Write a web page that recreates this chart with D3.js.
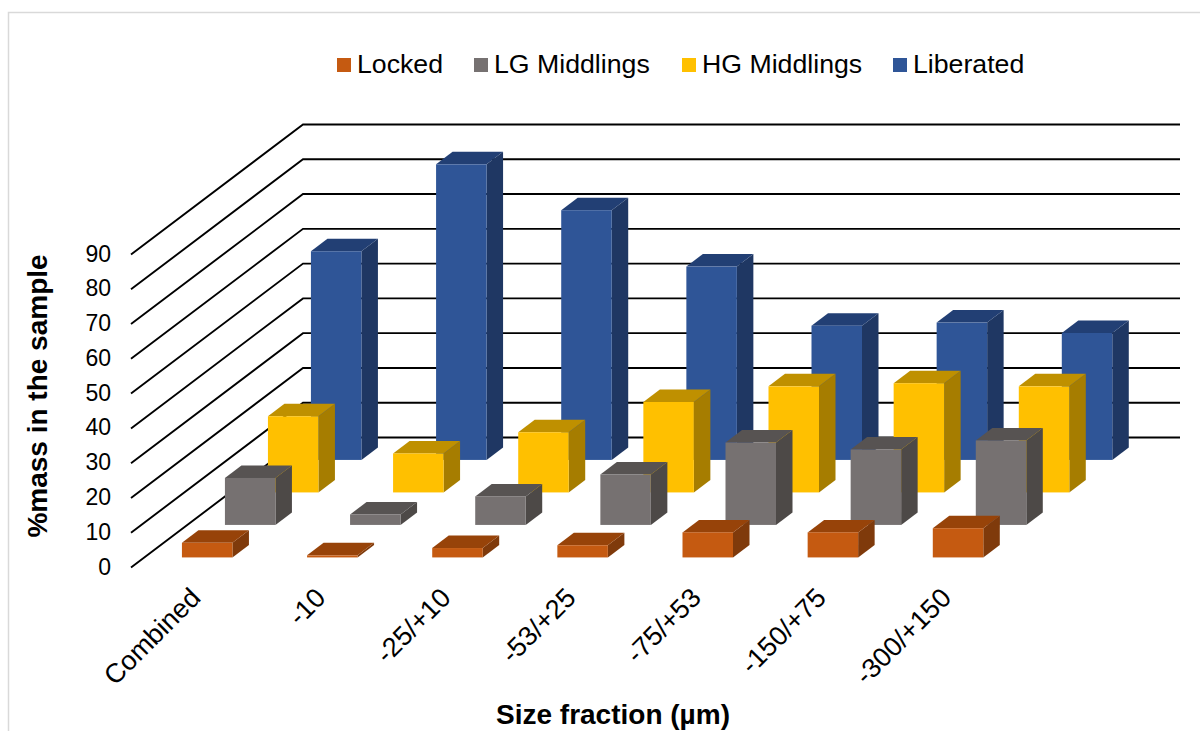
<!DOCTYPE html>
<html>
<head>
<meta charset="utf-8">
<script src="https://cdn.jsdelivr.net/npm/d3@7/dist/d3.min.js"></script>
<style>
  html, body { margin: 0; padding: 0; background: #fff; }
  svg { display: block; }
  text { font-family: "Liberation Sans", Arial, sans-serif; fill: #000; }
</style>
</head>
<body>
<svg id="chart" width="1200" height="731"></svg>
<script>
// Mass distribution by liberation class and size fraction
const categories = ["Combined", "-10", "-25/+10", "-53/+25", "-75/+53", "-150/+75", "-300/+150"];
const seriesNames = ["Locked", "LG Middlings", "HG Middlings", "Liberated"];
const locked = [4.2, 0.6, 2.7, 3.5, 7.2, 7.2, 8.4];
const lgMiddlings = [13.5, 3, 8.2, 14.5, 23.7, 21.7, 24.3];
const hgMiddlings = [21.9, 11.2, 17.3, 26, 30.5, 31.4, 30.5];
const liberated = [60, 85, 71.8, 55.6, 38.6, 39.5, 36.5];
const yTicks = d3.range(0, 100, 10);

const seriesValues = [locked, lgMiddlings, hgMiddlings, liberated];
const palette = [
  { front: "#C55A11", top: "#974309", side: "#7F3A0B" },
  { front: "#767171", top: "#575352", side: "#4D4947" },
  { front: "#FFC000", top: "#BF9000", side: "#A67D00" },
  { front: "#2F5597", top: "#223F74", side: "#1F3763" }
];

const svg = d3.select("#chart");

// Oblique projection: a shift along the depth axis moves a point up and right
const floorFrontX = 131, floorFrontY = 567.5;
const wallDX = 172, wallDY = 130;
const plotWidth = 877;
const yUnit = d3.scaleLinear().domain([0, 90]).range([0, 313]);
const xCat = d3.scaleBand().domain(categories).range([0, 876]);

function project(xPos, value, t) {
  return [floorFrontX + xPos + t * wallDX, floorFrontY - yUnit(value) - t * wallDY];
}

// Chart frame: only its left and top edges fall inside the canvas
svg.append("path")
  .attr("d", "M8.5,731V12.5H1200")
  .attr("fill", "none")
  .attr("stroke", "#D9D9D9")
  .attr("stroke-width", 1.5);

// Side and back wall gridlines
const grid = svg.append("g").attr("fill", "none").attr("stroke", "#000").attr("stroke-width", 1.9);
yTicks.forEach(v => {
  const pts = [project(0, v, 0), project(0, v, 1), project(plotWidth, v, 1)];
  grid.append("path").attr("d", d3.line()(pts));
});

// Value axis labels
svg.append("g").selectAll("text").data(yTicks).join("text")
  .attr("x", 111)
  .attr("y", v => floorFrontY - yUnit(v) - 1)
  .attr("dy", "0.35em")
  .attr("text-anchor", "end")
  .attr("font-size", 23)
  .text(d => d);

// Bars: back row first so nearer rows overlap it
const barW = 50.5, sideDX = 16.5, sideDY = 12.5, barOffset = 37.6;
const seriesCount = seriesNames.length;
const rowDepth = i => (i + 0.31) / seriesCount;

const bars = svg.append("g");
for (let s = seriesCount - 1; s >= 0; s--) {
  categories.forEach((c, i) => {
    const value = seriesValues[s][i];
    const [x0, y0] = project(xCat(c) + barOffset, 0, rowDepth(s));
    const yTop = y0 - yUnit(value);
    const col = palette[s];
    const g = bars.append("g");
    g.append("polygon").attr("fill", col.side)
      .attr("points", [[x0 + barW, y0], [x0 + barW + sideDX, y0 - sideDY], [x0 + barW + sideDX, yTop - sideDY], [x0 + barW, yTop]].join(" "));
    g.append("polygon").attr("fill", col.top)
      .attr("points", [[x0, yTop], [x0 + sideDX, yTop - sideDY], [x0 + barW + sideDX, yTop - sideDY], [x0 + barW, yTop]].join(" "));
    g.append("rect").attr("fill", col.front)
      .attr("x", x0).attr("y", yTop).attr("width", barW).attr("height", y0 - yTop);
  });
}

// Rotated category labels
svg.append("g").selectAll("text").data(categories).join("text")
  .attr("transform", c => `translate(${xCat(c) + 202},${599.5}) rotate(-45)`)
  .attr("text-anchor", "end")
  .attr("font-size", 27)
  .text(d => d);

// Axis titles
svg.append("text")
  .attr("transform", "translate(47,396) rotate(-90)")
  .attr("text-anchor", "middle")
  .attr("font-size", 28)
  .attr("font-weight", "bold")
  .text("%mass in the sample");

svg.append("text")
  .attr("x", 613).attr("y", 724)
  .attr("text-anchor", "middle")
  .attr("font-size", 28)
  .attr("font-weight", "bold")
  .text("Size fraction (µm)");

// Legend
const legendX = [337, 474, 682, 893];
const legend = svg.append("g").selectAll("g").data(seriesNames).join("g")
  .attr("transform", (d, i) => `translate(${legendX[i]},58)`);
legend.append("rect").attr("width", 14).attr("height", 14)
  .attr("fill", (d, i) => palette[i].front);
legend.append("text").attr("x", 20).attr("y", 15)
  .attr("font-size", 26.7)
  .text(d => d);
</script>
</body>
</html>
